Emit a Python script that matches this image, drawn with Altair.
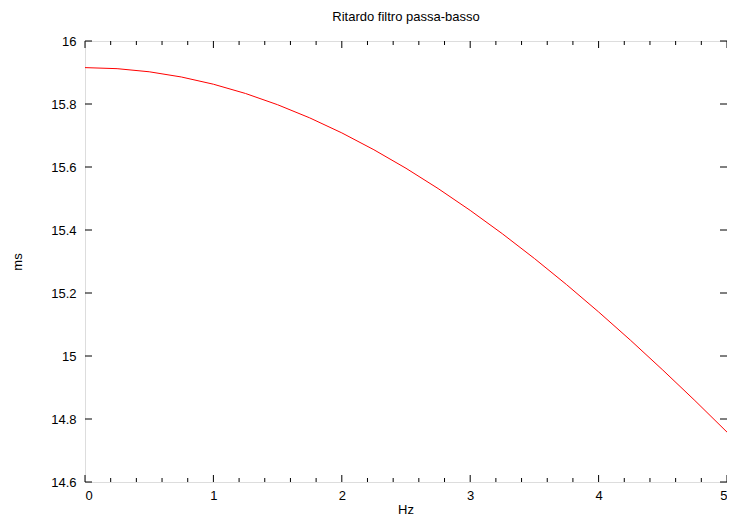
import altair as alt
import pandas as pd

# Data (frequency in Hz, delay in ms)
freq_hz = [0, 0.25, 0.5, 0.75, 1.0, 1.25, 1.5, 1.75, 2.0, 2.25, 2.5,
           2.75, 3.0, 3.25, 3.5, 3.75, 4.0, 4.25, 4.5, 4.75, 5.0]
delay_ms = [15.9155, 15.9122, 15.9023, 15.8858, 15.8628, 15.8334, 15.7977,
            15.7560, 15.7083, 15.6548, 15.5959, 15.5316, 15.4623, 15.3882,
            15.3096, 15.2267, 15.1399, 15.0495, 14.9554, 14.8585, 14.7584]

x_major = [0, 1, 2, 3, 4, 5]
x_minor = [0.2, 0.4, 0.6, 0.8, 1.2, 1.4, 1.6, 1.8, 2.2, 2.4, 2.6, 2.8,
           3.2, 3.4, 3.6, 3.8, 4.2, 4.4, 4.6, 4.8]
y_major = [14.6, 14.8, 15.0, 15.2, 15.4, 15.6, 15.8, 16.0]

title_text = ["Ritardo filtro passa-basso"]
x_title = ["Hz"]
y_title = "ms"

W, H = 642, 441
FONT = "Liberation Sans"
FS = 13
MAJ, MIN = 7, 4

df = pd.DataFrame({"f": freq_hz, "d": delay_ms})
xmaj = pd.DataFrame({"v": x_major})
xmin = pd.DataFrame({"v": x_minor})
ymaj = pd.DataFrame({"v": y_major})

xscale = alt.Scale(domain=[0, 5], nice=False, zero=False)
yscale = alt.Scale(domain=[14.6, 16], nice=False, zero=False)

line = alt.Chart(df).mark_line(color="#ff0000", strokeWidth=1, clip=True).encode(
    x=alt.X("f:Q", scale=xscale, title=None,
            axis=alt.Axis(values=x_major, format="~g", ticks=False, tickSize=0,
                          domain=False, grid=False, labelPadding=7,
                          labelFont=FONT, labelFontSize=FS, labelColor="black")),
    y=alt.Y("d:Q", scale=yscale, title=y_title,
            axis=alt.Axis(values=y_major, format="~g", ticks=False, tickSize=0,
                          domain=False, grid=False, labelPadding=9,
                          titlePadding=26, titleFontWeight="normal",
                          labelFont=FONT, labelFontSize=FS, labelColor="black",
                          titleFont=FONT, titleFontSize=FS, titleColor="black")),
)

def xticks(data, length, top):
    if top:
        return alt.Chart(data).mark_rule(color="black", strokeWidth=1).encode(
            x=alt.X("v:Q", scale=xscale), y=alt.value(0), y2=alt.value(length))
    return alt.Chart(data).mark_rule(color="black", strokeWidth=1).encode(
        x=alt.X("v:Q", scale=xscale), y=alt.value(H), y2=alt.value(H - length))

def yticks(data, length, right):
    if right:
        return alt.Chart(data).mark_rule(color="black", strokeWidth=1).encode(
            y=alt.Y("v:Q", scale=yscale), x=alt.value(W), x2=alt.value(W - length))
    return alt.Chart(data).mark_rule(color="black", strokeWidth=1).encode(
        y=alt.Y("v:Q", scale=yscale), x=alt.value(0), x2=alt.value(length))

title_mark = alt.Chart(pd.DataFrame({"t": title_text})).mark_text(
    font=FONT, fontSize=FS, color="black", align="center", baseline="middle"
).encode(text="t:N", x=alt.value(W / 2), y=alt.value(-24))

xtitle_mark = alt.Chart(pd.DataFrame({"t": x_title})).mark_text(
    font=FONT, fontSize=FS, color="black", align="center", baseline="middle"
).encode(text="t:N", x=alt.value(W / 2), y=alt.value(H + 28))

chart = alt.layer(
    xticks(xmaj, MAJ, False), xticks(xmaj, MAJ, True),
    xticks(xmin, MIN, False), xticks(xmin, MIN, True),
    yticks(ymaj, MAJ, False), yticks(ymaj, MAJ, True),
    line, title_mark, xtitle_mark,
).properties(
    width=W, height=H,
    autosize=alt.AutoSizeParams(type="none"),
    padding={"left": 77, "top": 33, "right": 0, "bottom": 35},
).configure_view(
    stroke="black", strokeWidth=1
).configure(background="white")

chart.save("out.html", embed_options={"renderer": "svg", "actions": False})
